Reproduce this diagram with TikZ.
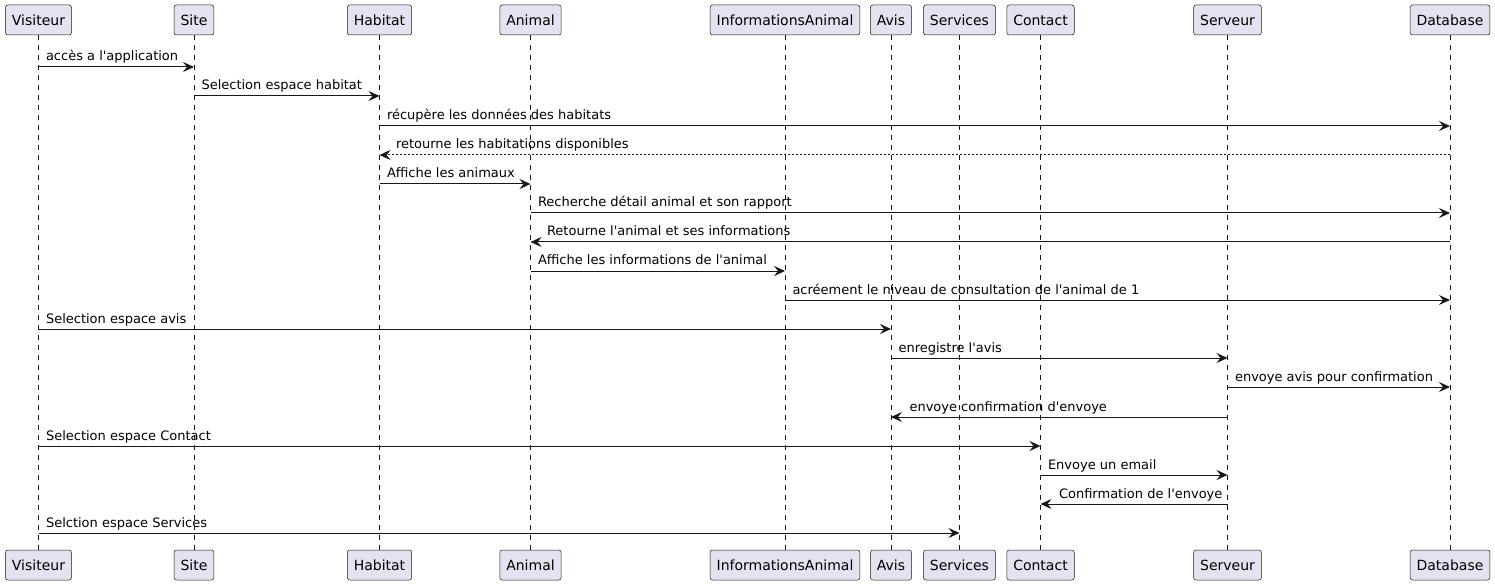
\documentclass[tikz,border=0pt]{standalone}
\usepackage{fontspec}
\setmainfont{DejaVu Sans}[Ligatures=TeXOff]
\usepackage{tikz}
\usetikzlibrary{arrows.meta, positioning, calc}
\definecolor{actfill}{HTML}{E2E2F0}
\definecolor{actline}{HTML}{181818}
\tikzset{
  actor/.style={rectangle, draw=actline, fill=actfill, rounded corners=2.5pt,
    minimum height=30pt, inner xsep=6.5pt, line width=0.5pt,
    font=\fontsize{14}{16}\selectfont},
  lifeline/.style={draw=actline, line width=0.5pt, dash pattern=on 5pt off 5pt},
  msg/.style={-{Stealth[length=11pt, width=10pt, inset=4pt]}, line width=1pt, color=actline},
  retmsg/.style={msg, dash pattern=on 2pt off 2pt},
  lbl/.style={anchor=base west, inner sep=0pt, text=black,
    font=\fontsize{13}{15}\selectfont}
}

\begin{document}
\begin{tikzpicture}[x=1pt, y=-1pt]
  \useasboundingbox (0,0) rectangle (1495,585);

  % participants, top row
  \node[actor] (vis)  at (38.5,20)  {Visiteur};
  \node[actor] (site) at (194,20)   {Site};
  \node[actor] (hab)  at (379.5,20) {Habitat};
  \node[actor] (ani)  at (530.5,20) {Animal};
  \node[actor] (info) at (785,20)   {InformationsAnimal};
  \node[actor] (avis) at (891,20)   {Avis};
  \node[actor] (serv) at (959.5,20) {Services};
  \node[actor] (cont) at (1040.5,20){Contact};
  \node[actor] (srv)  at (1227.5,20){Serveur};
  \node[actor] (db)   at (1450,20)  {Database};

  % participants, bottom row
  \node[actor] (visB)  at (38.5,565)  {Visiteur};
  \node[actor] (siteB) at (194,565)   {Site};
  \node[actor] (habB)  at (379.5,565) {Habitat};
  \node[actor] (aniB)  at (530.5,565) {Animal};
  \node[actor] (infoB) at (785,565)   {InformationsAnimal};
  \node[actor] (avisB) at (891,565)   {Avis};
  \node[actor] (servB) at (959.5,565) {Services};
  \node[actor] (contB) at (1040.5,565){Contact};
  \node[actor] (srvB)  at (1227.5,565){Serveur};
  \node[actor] (dbB)   at (1450,565)  {Database};

  % lifelines
  \draw[lifeline] (vis) -- (visB);
  \draw[lifeline] (site) -- (siteB);
  \draw[lifeline] (hab) -- (habB);
  \draw[lifeline] (ani) -- (aniB);
  \draw[lifeline] (info) -- (infoB);
  \draw[lifeline] (avis) -- (avisB);
  \draw[lifeline] (serv) -- (servB);
  \draw[lifeline] (cont) -- (contB);
  \draw[lifeline] (srv) -- (srvB);
  \draw[lifeline] (db) -- (dbB);

  % messages
  \draw[msg] (vis |- 0,67) -- (site |- 0,67)
    node[lbl, pos=0, xshift=7pt, yshift=6pt] {accès a l'application};
  \draw[msg] (site |- 0,96) -- (hab |- 0,96)
    node[lbl, pos=0, xshift=7pt, yshift=6pt] {Selection espace habitat};
  \draw[msg] (hab |- 0,126) -- (db |- 0,126)
    node[lbl, pos=0, xshift=7pt, yshift=6pt] {récupère les données des habitats};
  \draw[retmsg] (db |- 0,155) -- (hab |- 0,155)
    node[lbl, pos=1, xshift=16pt, yshift=6pt] {retourne les habitations disponibles};
  \draw[msg] (hab |- 0,184) -- (ani |- 0,184)
    node[lbl, pos=0, xshift=7pt, yshift=6pt] {Affiche les animaux};
  \draw[msg] (ani |- 0,213) -- (db |- 0,213)
    node[lbl, pos=0, xshift=7pt, yshift=6pt] {Recherche détail animal et son rapport};
  \draw[msg] (db |- 0,242) -- (ani |- 0,242)
    node[lbl, pos=1, xshift=16pt, yshift=6pt] {Retourne l'animal et ses informations};
  \draw[msg] (ani |- 0,271) -- (info |- 0,271)
    node[lbl, pos=0, xshift=7pt, yshift=6pt] {Affiche les informations de l'animal};
  \draw[msg] (info |- 0,300) -- (db |- 0,300)
    node[lbl, pos=0, xshift=7pt, yshift=6pt] {acréement le niveau de consultation de l'animal de 1};
  \draw[msg] (vis |- 0,329) -- (avis |- 0,329)
    node[lbl, pos=0, xshift=7pt, yshift=6pt] {Selection espace avis};
  \draw[msg] (avis |- 0,358) -- (srv |- 0,358)
    node[lbl, pos=0, xshift=7pt, yshift=6pt] {enregistre l'avis};
  \draw[msg] (srv |- 0,387) -- (db |- 0,387)
    node[lbl, pos=0, xshift=7pt, yshift=6pt] {envoye avis pour confirmation};
  \draw[msg] (srv |- 0,417) -- (avis |- 0,417)
    node[lbl, pos=1, xshift=18pt, yshift=6pt] {envoye confirmation d'envoye};
  \draw[msg] (vis |- 0,446) -- (cont |- 0,446)
    node[lbl, pos=0, xshift=7pt, yshift=6pt] {Selection espace Contact};
  \draw[msg] (cont |- 0,475) -- (srv |- 0,475)
    node[lbl, pos=0, xshift=7pt, yshift=6pt] {Envoye un email};
  \draw[msg] (srv |- 0,504) -- (cont |- 0,504)
    node[lbl, pos=1, xshift=18pt, yshift=6pt] {Confirmation de l'envoye};
  \draw[msg] (vis |- 0,533) -- (serv |- 0,533)
    node[lbl, pos=0, xshift=7pt, yshift=6pt] {Selction espace Services};
\end{tikzpicture}
\end{document}
